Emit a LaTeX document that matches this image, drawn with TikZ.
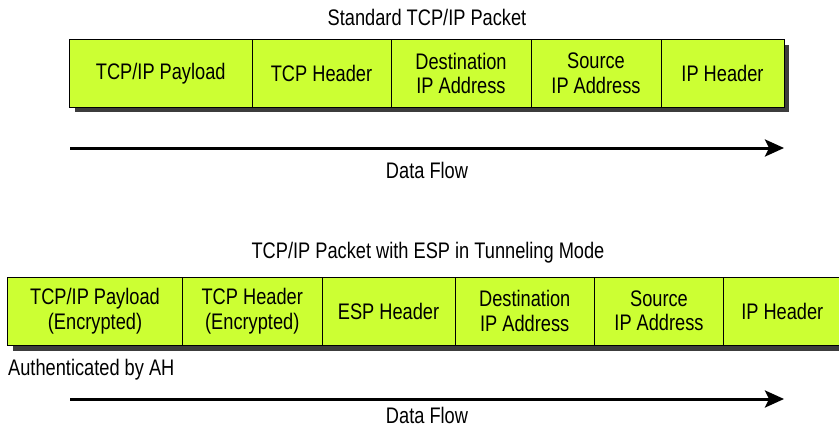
\documentclass[tikz,border=0pt]{standalone}
\usepackage{fontspec}
\setmainfont{Liberation Sans}[FakeStretch=0.81]
\usetikzlibrary{arrows.meta}
\definecolor{cellgreen}{RGB}{204,255,51}
\definecolor{shadowgray}{RGB}{60,60,60}
\tikzset{
  cell/.style={draw=black, line width=1pt, fill=cellgreen, minimum height=68pt,
    inner sep=0pt, align=center, font=\fontsize{22.5}{24.5}\selectfont},
  caption/.style={inner sep=0pt, font=\fontsize{22.5}{24.5}\selectfont},
  packetshadow/.style={fill=shadowgray},
  flow/.style={line width=3pt, -{Stealth[length=19pt, width=17pt, inset=4pt]}}
}
\begin{document}
\begin{tikzpicture}[x=1pt,y=-1pt]
\useasboundingbox (0,0) rectangle (839,428);
% ---- top packet ----
\node[caption] (t1) at (427,17) {Standard TCP/IP Packet};
\fill[packetshadow] (74.5,45.5) rectangle (789,112);
\node[cell, minimum width=182.5pt] (p1) at (160.75,73.5) {TCP/IP Payload};
\node[cell, minimum width=139pt] (p2) at (321.5,73.5) {TCP Header};
\node[cell, minimum width=140pt] (p3) at (461,73.5) {Destination\\IP Address};
\node[cell, minimum width=130pt] (p4) at (596,73.5) {Source\\IP Address};
\node[cell, minimum width=123pt] (p5) at (722.5,73.5) {IP Header};
\coordinate (a1s) at (70,148);
\coordinate (a1e) at (784,148);
\draw[flow] (a1s) -- (a1e);
\node[caption] (d1) at (427,170) {Data Flow};
% ---- bottom packet ----
\node[caption] (t2) at (428,253) {TCP/IP Packet with ESP in Tunneling Mode};
\fill[packetshadow] (12.5,282) rectangle (846,350.5);
\node[cell, minimum width=175pt] (q1) at (95,311) {TCP/IP Payload\\(Encrypted)};
\node[cell, minimum width=139.5pt] (q2) at (252.25,311) {TCP Header\\(Encrypted)};
\node[cell, minimum width=133pt] (q3) at (388.5,311) {ESP Header};
\node[cell, minimum width=139.5pt] (q4) at (524.75,311) {Destination\\IP Address};
\node[cell, minimum width=128.5pt] (q5) at (659,311) {Source\\IP Address};
\node[cell, minimum width=118pt] (q6) at (782.3,311) {IP Header};
\node[caption, anchor=west] (auth) at (8,370) {Authenticated by AH};
\coordinate (a2s) at (70,399);
\coordinate (a2e) at (784,399);
\draw[flow] (a2s) -- (a2e);
\node[caption] (d2) at (427,415) {Data Flow};
\end{tikzpicture}
\end{document}
